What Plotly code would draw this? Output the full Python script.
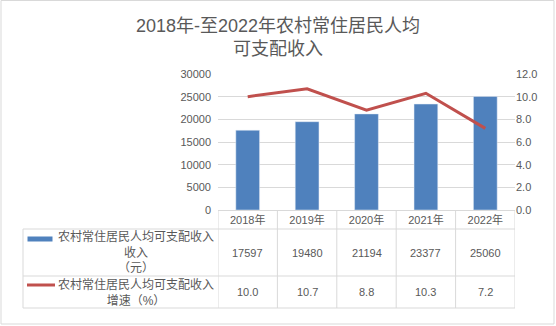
import plotly.graph_objects as go

# Data
years = ["2018年", "2019年", "2020年", "2021年", "2022年"]
income = [17597, 19480, 21194, 23377, 25060]
growth = [10.0, 10.7, 8.8, 10.3, 7.2]
income_label = "农村常住居民人均可支配收入<br>收入<br>（元）"
growth_label = "农村常住居民人均可支配收入<br>增速（%）"
title_text = "2018年-至2022年农村常住居民人均<br>可支配收入"

# Canvas / plot-area geometry (pixels)
W, H = 556, 326
L, R, T, B = 218, 515, 74, 210

BLUE = "#4f81bd"
RED = "#c0504d"
GRID = "#d9d9d9"
TXT = "#595959"
FONT = "Liberation Sans, Noto Sans CJK SC, sans-serif"


def px(x):
    return (x - L) / (R - L)


def py(y):
    return (B - y) / (B - T)


fig = go.Figure()
fig.add_trace(go.Bar(x=list(range(len(years))), y=income, marker_color=BLUE,
                     name=income_label, yaxis="y"))
fig.add_trace(go.Scatter(x=list(range(len(years))), y=growth, mode="lines",
                         line=dict(color=RED, width=3), name=growth_label,
                         yaxis="y2"))

shapes = []
line_style = dict(color=GRID, width=1)
# data-table grid
table_bottom = 308
for yy in (229, 276, table_bottom):
    shapes.append(dict(type="line", xref="paper", yref="paper",
                       x0=px(23), x1=px(R), y0=py(yy), y1=py(yy), line=line_style))
shapes.append(dict(type="line", xref="paper", yref="paper",
                   x0=px(23), x1=px(23), y0=py(229), y1=py(table_bottom), line=line_style))
for i in range(len(years) + 1):
    shapes.append(dict(type="line", xref="x", yref="paper",
                       x0=i - 0.5, x1=i - 0.5, y0=py(B), y1=py(table_bottom), line=line_style))
# legend keys inside the table
shapes.append(dict(type="rect", xref="paper", yref="paper",
                   x0=px(27.5), x1=px(52.5), y0=py(241.5), y1=py(236.5),
                   fillcolor=BLUE, line=dict(width=0)))
shapes.append(dict(type="line", xref="paper", yref="paper",
                   x0=px(27), x1=px(55), y0=py(285), y1=py(285),
                   line=dict(color=RED, width=3)))
# chart border
shapes.append(dict(type="rect", xref="paper", yref="paper",
                   x0=px(1), x1=px(554), y0=py(0.5), y1=py(324),
                   line=dict(color=GRID, width=1), fillcolor="rgba(0,0,0,0)"))

annotations = []
annotations.append(dict(xref="paper", yref="paper", x=px(136), y=py(252.5),
                        xanchor="center", yanchor="middle",
                        text=income_label, showarrow=False, align="center",
                        font=dict(family=FONT, size=12, color=TXT)))
annotations.append(dict(xref="paper", yref="paper", x=px(136), y=py(292.5),
                        xanchor="center", yanchor="middle",
                        text=growth_label, showarrow=False, align="center",
                        font=dict(family=FONT, size=12, color=TXT)))
for i in range(len(years)):
    annotations.append(dict(xref="x", yref="paper", x=i, y=py(252.5),
                            xanchor="center", yanchor="middle",
                            text=str(income[i]), showarrow=False,
                            font=dict(family=FONT, size=11, color=TXT)))
    annotations.append(dict(xref="x", yref="paper", x=i, y=py(292),
                            xanchor="center", yanchor="middle",
                            text=f"{growth[i]:.1f}", showarrow=False,
                            font=dict(family=FONT, size=11, color=TXT)))

fig.update_layout(
    width=W, height=H,
    margin=dict(l=L, r=W - R, t=T, b=H - B),
    paper_bgcolor="white", plot_bgcolor="white",
    showlegend=False,
    bargap=0.6,
    title=dict(text=title_text, x=0.5, xanchor="center", y=1 - 32 / H,
               yanchor="middle", font=dict(family=FONT, size=18, color=TXT)),
    xaxis=dict(tickmode="array", tickvals=list(range(len(years))), ticktext=years,
               range=[-0.5, len(years) - 0.5], showgrid=False, showline=True,
               linecolor=GRID, linewidth=1, ticks="",
               tickfont=dict(family=FONT, size=11, color=TXT)),
    yaxis=dict(range=[0, 30000], dtick=5000, tickformat="d", showgrid=True,
               gridcolor=GRID, gridwidth=1, zeroline=False, showline=False,
               ticks="", ticklabelstandoff=6,
               tickfont=dict(family=FONT, size=11, color=TXT)),
    yaxis2=dict(range=[0, 12], dtick=2, tickformat=".1f", overlaying="y",
                side="right", showgrid=False, zeroline=False, showline=False,
                ticks="", tickfont=dict(family=FONT, size=11, color=TXT)),
    shapes=shapes,
    annotations=annotations,
)

fig.write_html("out.html")
